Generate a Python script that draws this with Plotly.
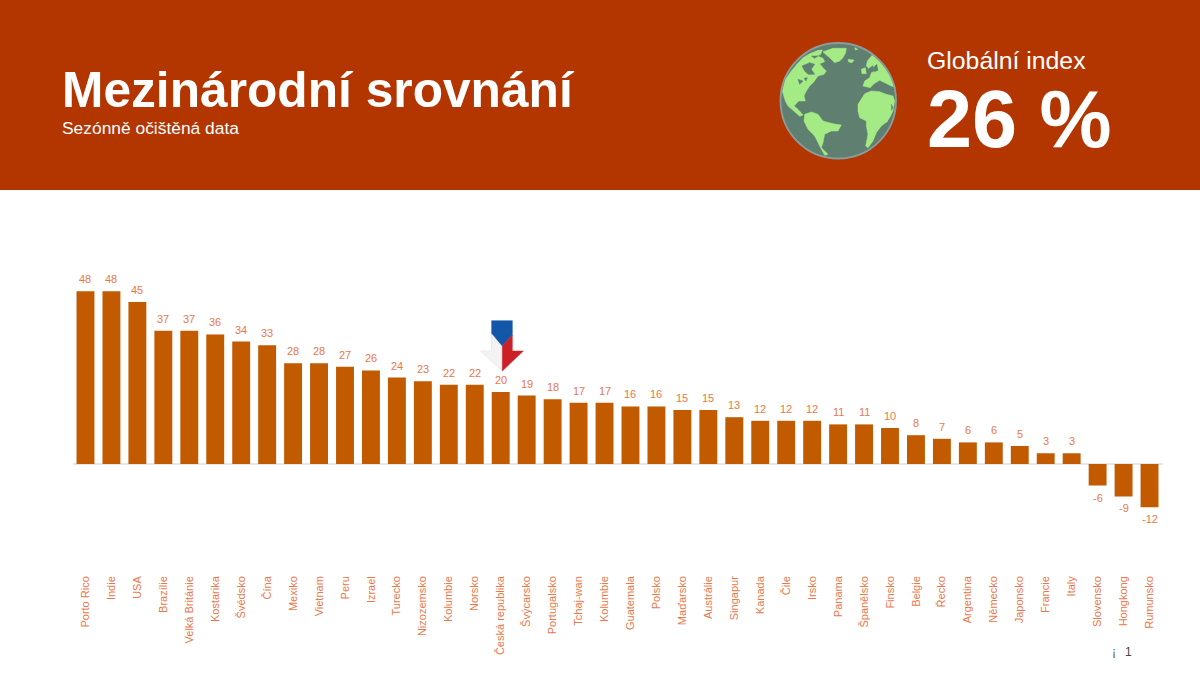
import plotly.graph_objects as go

countries = ["Porto Rico", "Indie", "USA", "Brazílie", "Velká Británie", "Kostarika", "Švédsko", "Čína",
             "Mexiko", "Vietnam", "Peru", "Izrael", "Turecko", "Nizozemsko", "Kolumbie", "Norsko",
             "Česká republika", "Švýcarsko", "Portugalsko", "Tchaj-wan", "Kolumbie", "Guatemala", "Polsko",
             "Maďarsko", "Austrálie", "Singapur", "Kanada", "Čile", "Irsko", "Panama", "Španělsko", "Finsko",
             "Belgie", "Řecko", "Argentina", "Německo", "Japonsko", "Francie", "Italy", "Slovensko",
             "Hongkong", "Rumunsko"]
values = [48, 48, 45, 37, 37, 36, 34, 33, 28, 28, 27, 26, 24, 23, 22, 22, 20, 19, 18, 17, 17, 16, 16,
          15, 15, 13, 12, 12, 12, 11, 11, 10, 8, 7, 6, 6, 5, 3, 3, -6, -9, -12]
positions = list(range(len(countries)))

W = 1200
H = 675
FONT = "Liberation Sans"
HEADER = "#B33600"
BAR = "#C25A00"
LABEL = "#E8784A"
SEA = "#5F8070"
LAND = "#A5EB85"


def px_path(points, ox=0, oy=0, scale=1):
    # pixel points of the picture -> svg path in paper coordinates
    out = []
    for i, (x, y) in enumerate(points):
        px = ox + x / scale
        py = oy + y / scale
        out.append(("M" if i == 0 else "L") + f"{px / W:.5f},{1 - py / H:.5f}")
    return " ".join(out) + " Z"


def add_poly(fig, points, color, ox=0, oy=0, scale=1, edge=None):
    fig.add_shape(type="path", xref="paper", yref="paper", path=px_path(points, ox, oy, scale),
                  fillcolor=color, line=dict(color=edge or color, width=0.5), layer="above")


def add_text(fig, x, y, text, size, color="white", bold=False):
    fig.add_annotation(xref="paper", yref="paper", x=x / W, y=1 - y / H, text=f"<b>{text}</b>" if bold else text,
                       showarrow=False, xanchor="left", yanchor="middle", align="left",
                       font=dict(family=FONT, size=size, color=color))


fig = go.Figure()
fig.add_trace(go.Bar(x=positions, y=values, marker=dict(color=BAR, line=dict(width=0)), width=0.69))

# value labels sit a bit further from the bars than textposition outside allows
for p, v in zip(positions, values):
    fig.add_annotation(x=p, y=v, text=str(v), showarrow=False, yanchor="middle", yshift=12 if v > 0 else -12,
                       font=dict(family=FONT, size=11, color=LABEL))

fig.update_layout(width=W, height=H, margin=dict(l=0, r=0, t=0, b=0), showlegend=False,
                  paper_bgcolor="white", plot_bgcolor="white", font=dict(family=FONT))
fig.update_xaxes(domain=[72.5 / W, 1162.5 / W], range=[-0.5, 41.5], tickmode="array", tickvals=positions,
                 ticktext=countries, tickangle=-90, showgrid=False, zeroline=False, showline=False, ticks="",
                 tickfont=dict(family=FONT, size=11, color=LABEL))
fig.update_yaxes(domain=[1 - 573 / H, 1 - 240 / H], range=[(464 - 573) / 3.6, (464 - 240) / 3.6], showgrid=False,
                 showticklabels=False, ticks="", showline=False, zeroline=True, zerolinecolor="#E6E6EE",
                 zerolinewidth=2)

# header band
fig.add_shape(type="rect", xref="paper", yref="paper", x0=0, x1=1, y0=1 - 190 / H, y1=1, fillcolor=HEADER,
              line=dict(width=0), layer="below")
add_text(fig, 60, 90, "Mezinárodní srovnání", 49.7, bold=True)
add_text(fig, 60, 128, "Sezónně očištěná data", 17.4)
add_text(fig, 925, 60, "Globální index", 24.8)
add_text(fig, 925, 119, "26 %", 81, bold=True)
add_text(fig, 1110, 652, "¡", 12, color="#555555")
add_text(fig, 1123, 652, "1", 12, color="#444444")

GX, GY = 778, 41
fig.add_shape(type="circle", xref="paper", yref="paper", x0=780.5 / W, x1=896 / W, y0=1 - 158.5 / H, y1=1 - 43 / H,
              fillcolor=SEA, line=dict(width=0), layer="above")
land_polys = [
    # north america + mexico
    [(58, 68), (75, 50), (95, 38), (120, 28), (133, 27), (128, 40), (118, 45), (135, 52), (140, 62), (125, 68),
     (135, 80), (145, 90), (138, 100), (120, 105), (108, 122), (95, 135), (85, 150), (78, 165), (82, 180),
     (62, 180), (48, 195), (60, 205), (75, 222), (65, 226), (45, 208), (30, 195), (22, 180), (13, 150), (22, 115),
     (40, 90)],
    # greenland
    [(135, 32), (165, 22), (205, 22), (203, 35), (195, 50), (185, 60), (170, 65), (155, 50), (145, 42)],
    # south america
    [(80, 220), (100, 213), (120, 220), (135, 240), (165, 248), (190, 252), (180, 270), (160, 270), (140, 280),
     (135, 305), (130, 320), (150, 340), (140, 343), (125, 315), (110, 285), (90, 265), (78, 240)],
    # iceland and small bits
    [(210, 55), (228, 57), (222, 65), (212, 63)],
    [(230, 20), (240, 25), (232, 27)],
    # europe
    [(268, 60), (283, 42), (305, 62), (320, 80), (335, 100), (345, 125), (352, 140), (340, 135), (320, 125),
     (305, 118), (288, 128), (277, 140), (255, 135), (260, 120), (275, 110), (280, 95), (292, 90), (285, 72),
     (272, 82), (265, 75)],
    [(250, 85), (262, 80), (265, 98), (252, 98)],
    # africa
    [(260, 158), (280, 150), (305, 152), (325, 160), (345, 165), (350, 180), (345, 210), (330, 240), (310, 255),
     (295, 275), (285, 300), (270, 320), (263, 315), (270, 280), (265, 255), (265, 240), (245, 230), (240, 210),
     (240, 190)],
]
for c in land_polys:
    add_poly(fig, c, LAND, GX, GY, 3)
# hudson bay, lakes and inland seas
water_polys = [
    [(72, 75), (95, 65), (110, 70), (100, 85), (110, 100), (90, 100), (80, 90)],
    [(100, 45), (120, 45), (110, 52)],
    [(60, 115), (75, 120), (65, 130)],
    [(78, 112), (88, 110), (84, 120)],
    [(288, 78), (296, 70), (300, 88), (290, 92)],
    [(340, 190), (345, 200), (341, 208)],
    [(330, 240), (336, 232), (334, 245)],
]
for c in water_polys:
    add_poly(fig, c, SEA, GX, GY, 3)
fig.add_shape(type="circle", xref="paper", yref="paper", x0=780.5 / W, x1=896 / W, y0=1 - 158.5 / H, y1=1 - 43 / H,
              line=dict(color="#8C9C9C", width=1.8), layer="above")

# czech arrow above the czech bar, traced at 3x
AX, AY = 440, 300
add_poly(fig, [(155, 100), (187, 138), (187, 213), (122, 153), (155, 153)], "#F3F3F5", AX, AY, 3, edge="#DADADA")
add_poly(fig, [(155, 62), (217, 62), (217, 105), (187, 138), (155, 100)], "#1257A8", AX, AY, 3)
add_poly(fig, [(217, 105), (217, 153), (250, 153), (187, 213), (187, 138)], "#CC2027", AX, AY, 3)

fig.write_html("out.html", config=dict(displayModeBar=False), post_script="document.body.style.margin='0';")
